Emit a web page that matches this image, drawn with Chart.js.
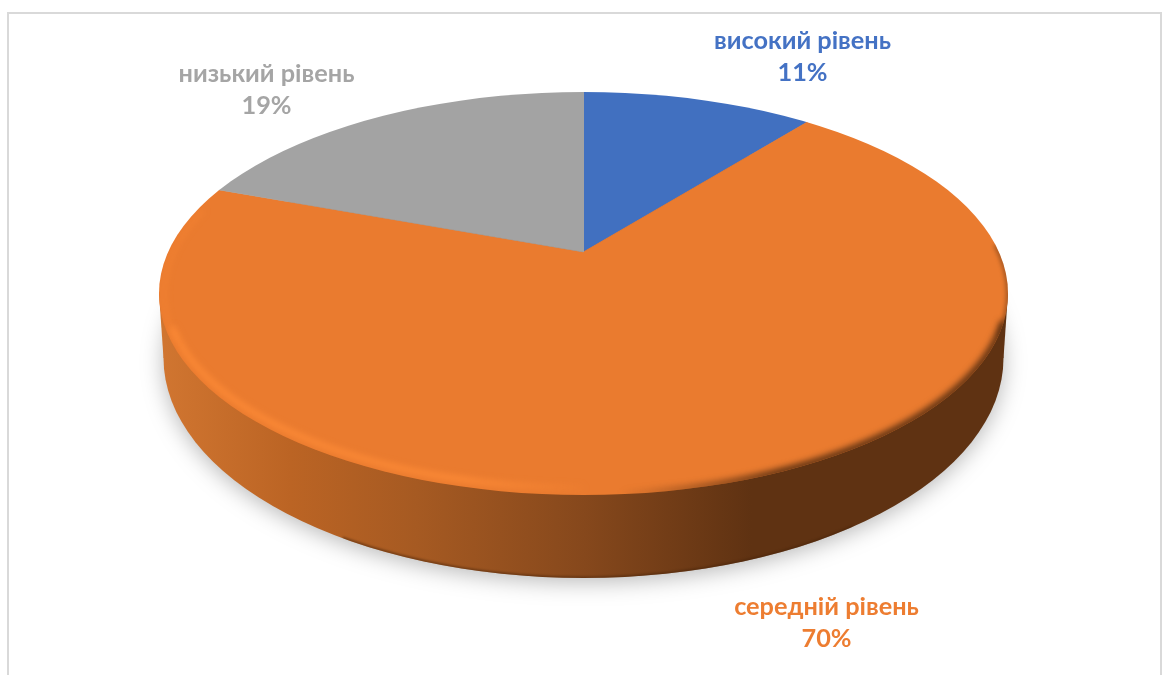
<!DOCTYPE html>
<html lang="uk">
  <head>
    <meta charset="UTF-8" />
    <script src="https://cdn.jsdelivr.net/npm/chart.js"></script>
    <title>Рівні</title>
    <style>
      html, body { margin: 0; background: #fff; overflow: hidden; }
      #frame { position: absolute; left: 7px; top: 12px; width: 1151px; height: 670px; border: 2px solid #d9d9d9; }
      #chart { position: absolute; left: 0; top: 0; }
    </style>
  </head>
  <body>
    <div id="frame"></div>
    <canvas id="chart" width="1163" height="675"></canvas>

    <script>
      const categories = ["високий рівень", "середній рівень", "низький рівень"];
      const values = [11, 70, 19];
      const sliceColors = ["#4170c0", "#ea7b2f", "#a3a3a3"];
      const labelColors = ["#4472c4", "#ed7d31", "#a5a5a5"];
      const labelAnchors = [[802.5, 41], [826.5, 606.5], [266.5, 73.5]];

      // the 3D look: top face, lower rim, and the flattening of the pie
      const top3d = { x: 583.5, y: 293.5, rx: 424.5, ry: 201.5 };
      const low3d = { x: 583.5, y: 358, rx: 420, ry: 220 };
      const tilt = 0.468;
      const shear = 0.015;

      function ellipsePath(ctx, e, grow, from, to) {
        ctx.beginPath();
        ctx.ellipse(e.x, e.y, e.rx + (grow || 0), e.ry + (grow || 0), 0, from || 0, to === undefined ? Math.PI * 2 : to);
      }

      function rad(d) { return d * Math.PI / 180; }

      const pie3d = {
        id: "pie3d",
        beforeDatasetsDraw(chart) {
          const ctx = chart.ctx;
          const arc = chart.getDatasetMeta(0).data[0];

          const side = ctx.createLinearGradient(165, 0, 1003, 0);
          side.addColorStop(0, "#d07530");
          side.addColorStop(0.15, "#bb6424");
          side.addColorStop(0.3, "#a65a22");
          side.addColorStop(0.5, "#86481c");
          side.addColorStop(0.7, "#5f3212");
          side.addColorStop(1, "#5f3212");

          ctx.save();
          ctx.shadowColor = "rgba(0,0,0,0.28)";
          ctx.shadowBlur = 22;
          ctx.shadowOffsetY = 4;
          ctx.fillStyle = side;
          ellipsePath(ctx, low3d);
          ctx.fill();
          ctx.restore();

          // join the rim up to the top face
          ctx.save();
          ctx.fillStyle = side;
          ctx.beginPath();
          ctx.moveTo(top3d.x - top3d.rx, top3d.y);
          ctx.lineTo(low3d.x - low3d.rx, low3d.y);
          ctx.lineTo(low3d.x + low3d.rx, low3d.y);
          ctx.lineTo(top3d.x + top3d.rx, top3d.y);
          ctx.closePath();
          ctx.fill();
          ctx.restore();

          // darker line along the bottom of the rim
          ctx.save();
          ellipsePath(ctx, low3d);
          ctx.clip();
          ctx.strokeStyle = "rgba(70,35,10,0.55)";
          ctx.lineWidth = 3;
          ctx.filter = "blur(1px)";
          ellipsePath(ctx, low3d, 0, rad(50), rad(125));
          ctx.stroke();
          ctx.restore();

          // the slices themselves, flattened and cut to the top face
          ctx.save();
          ellipsePath(ctx, top3d);
          ctx.clip();
          ctx.translate(arc.x, arc.y);
          ctx.transform(1, -shear, 0, tilt, 0, 0);
          ctx.translate(-arc.x, -arc.y);
        },
        afterDatasetsDraw(chart) {
          const ctx = chart.ctx;
          ctx.restore();

          ctx.save();
          ellipsePath(ctx, top3d);
          ctx.clip();

          const light = ctx.createLinearGradient(160, 0, 600, 0);
          light.addColorStop(0, "rgba(255,140,55,0.85)");
          light.addColorStop(0.7, "rgba(255,140,55,0.85)");
          light.addColorStop(1, "rgba(255,140,55,0)");
          ctx.strokeStyle = light;
          ctx.lineWidth = 6;
          ctx.filter = "blur(3px)";
          ellipsePath(ctx, top3d, -7, rad(90), rad(170));
          ctx.stroke();
          // stripe thins out going up the left edge
          ctx.strokeStyle = "rgba(255,140,55,0.4)";
          ctx.lineWidth = 4;
          ctx.filter = "blur(3px)";
          ellipsePath(ctx, top3d, -5, rad(166), rad(205));
          ctx.stroke();

          const dark = ctx.createLinearGradient(620, 0, 780, 0);
          dark.addColorStop(0, "rgba(95,50,18,0)");
          dark.addColorStop(1, "rgba(95,50,18,1)");
          ctx.strokeStyle = dark;
          ctx.lineWidth = 8;
          ctx.filter = "blur(3px)";
          ellipsePath(ctx, top3d, 0, rad(8), rad(92));
          ctx.stroke();
          ctx.strokeStyle = "rgba(95,50,18,0.7)";
          ctx.lineWidth = 3;
          ctx.filter = "blur(2px)";
          ellipsePath(ctx, top3d, 0, rad(-14), rad(12));
          ctx.stroke();
          ctx.restore();

          // labels
          ctx.save();
          ctx.font = "bold 25.3px Lato, 'Noto Sans', sans-serif";
          ctx.textAlign = "center";
          ctx.textBaseline = "middle";
          categories.forEach(function (name, i) {
            ctx.fillStyle = labelColors[i];
            ctx.fillText(name, labelAnchors[i][0], labelAnchors[i][1]);
            ctx.fillText(values[i] + "%", labelAnchors[i][0], labelAnchors[i][1] + 32);
          });
          ctx.restore();
        },
      };

      new Chart(document.getElementById("chart"), {
        type: "pie",
        data: {
          labels: categories,
          datasets: [{
            data: values,
            backgroundColor: sliceColors,
            borderColor: sliceColors,
            borderWidth: 1,
            clip: false,
            radius: 620,
          }],
        },
        options: {
          responsive: false,
          animation: false,
          layout: { padding: { left: 4, bottom: 171 } },
          plugins: { legend: { display: false }, tooltip: { enabled: false } },
        },
        plugins: [pie3d],
      });
    </script>
  </body>
</html>
